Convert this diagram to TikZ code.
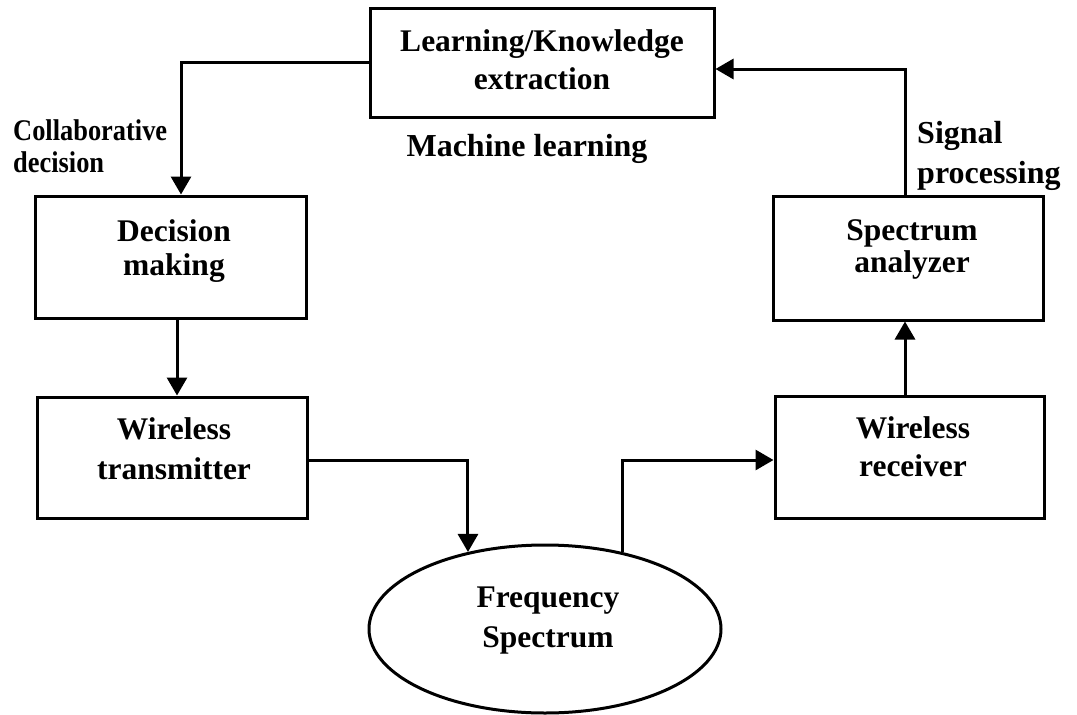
\documentclass[tikz,border=0pt]{standalone}
\usepackage{fontspec}
\setmainfont{Liberation Serif}
\usetikzlibrary{arrows.meta,shapes.geometric}
\tikzset{
  blk/.style={draw, line width=3pt, inner sep=0pt, minimum width=#1},
  lbl/.style={inner sep=0pt, align=center, anchor=north},
  side/.style={inner sep=0pt, align=left, anchor=north west},
  link/.style={line width=3pt, -{Triangle[width=20pt,length=18pt]}},
}
\newcommand{\bx}[1]{\fontsize{31.5}{#1}\selectfont\bfseries}
\begin{document}
\begin{tikzpicture}[x=1pt, y=-1pt]
\useasboundingbox (0,0) rectangle (1077,715);

% blocks
\node[blk=344pt, minimum height=109pt] (learn) at (542,62.5) {};
\node[blk=271pt, minimum height=122pt] (dm) at (170.5,257) {};
\node[blk=270pt, minimum height=121pt] (tx) at (172,457.5) {};
\node[blk=270pt, minimum height=124pt] (an) at (908,258) {};
\node[blk=269pt, minimum height=122pt] (rx) at (909.5,457) {};
\node[draw, ellipse, line width=3pt, inner sep=0pt,
      minimum width=352pt, minimum height=168pt] (fs) at (545,629) {};

% block texts
\node[lbl, font=\bx{38}] (learnt) at (542,29) {Learning/Knowledge\\extraction};
\node[lbl, font=\bx{34}] (dmt) at (174,219) {Decision\\making};
\node[lbl, font=\bx{40}] (txt) at (174,417) {Wireless\\transmitter};
\node[lbl, font=\bx{32}] (ant) at (912,219) {Spectrum\\analyzer};
\node[lbl, font=\bx{38}] (rxt) at (913,416) {Wireless\\receiver};
\node[lbl, font=\bx{40}] (fst) at (548,587) {Frequency\\Spectrum};

% side labels
\node[lbl, font=\fontsize{32}{38}\selectfont\bfseries] (ml) at (527,134) {Machine learning};
\node[side, font=\fontsize{30}{32}\selectfont\bfseries] (cd) at (13,119)
  {\scalebox{0.88}[1]{Collaborative}\\\scalebox{0.88}[1]{decision}};
\node[side, font=\fontsize{32}{40}\selectfont\bfseries] (sp) at (917,121) {Signal\\processing};

% connectors
\draw[link] ([xshift=-3pt]an.north) |- ([yshift=-6.5pt]learn.east);
\draw[link] (learn.west) -| ([xshift=10.5pt]dm.north);
\draw[link] ([xshift=6.5pt]dm.south) -- ([xshift=6.5pt]dm.south |- tx.north);
\draw[link] ([yshift=-2.5pt]tx.east) -| (fs.135);
\draw[link] (fs.45) |- ([yshift=-3pt]rx.west);
\draw[link] ([xshift=-4.5pt]rx.north) -- ([xshift=-4.5pt]rx.north |- an.south);
\end{tikzpicture}
\end{document}
